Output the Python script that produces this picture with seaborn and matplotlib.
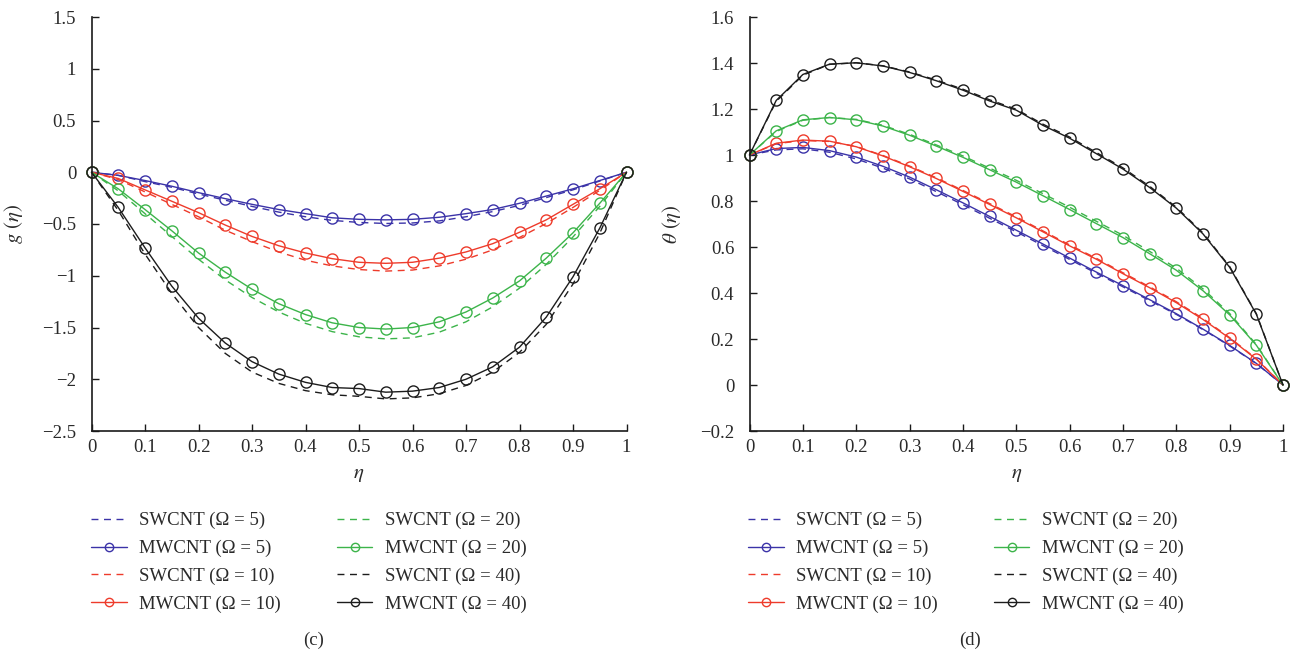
import numpy as np
import pandas as pd
import matplotlib
matplotlib.use("Agg")
import matplotlib.pyplot as plt
import seaborn as sns
from matplotlib.ticker import FuncFormatter, FixedLocator

eta = [0.0, 0.05, 0.1, 0.15, 0.2, 0.25, 0.3, 0.35, 0.4, 0.45, 0.5,
       0.55, 0.6, 0.65, 0.7, 0.75, 0.8, 0.85, 0.9, 0.95, 1.0]

# ---- panel (c): g(eta) ----
g_sw5 = [0, -0.03, -0.09, -0.145, -0.21, -0.27, -0.33, -0.385, -0.43, -0.465, -0.485,
         -0.495, -0.49, -0.47, -0.43, -0.38, -0.32, -0.245, -0.17, -0.085, 0]
g_mw5 = [0, -0.03, -0.08, -0.135, -0.197, -0.255, -0.31, -0.36, -0.40, -0.44, -0.455,
         -0.46, -0.455, -0.435, -0.40, -0.36, -0.30, -0.23, -0.16, -0.08, 0]
g_sw10 = [0, -0.07, -0.19, -0.31, -0.43, -0.56, -0.67, -0.77, -0.85, -0.905, -0.94,
          -0.955, -0.945, -0.905, -0.84, -0.75, -0.63, -0.495, -0.34, -0.175, 0]
g_mw10 = [0, -0.06, -0.17, -0.28, -0.39, -0.51, -0.62, -0.71, -0.78, -0.835, -0.87,
          -0.88, -0.87, -0.83, -0.77, -0.69, -0.58, -0.46, -0.31, -0.16, 0]
g_sw20 = [0, -0.18, -0.40, -0.62, -0.84, -1.04, -1.21, -1.35, -1.46, -1.54, -1.59,
          -1.61, -1.60, -1.545, -1.445, -1.30, -1.12, -0.89, -0.625, -0.33, 0]
g_mw20 = [0, -0.16, -0.36, -0.565, -0.78, -0.965, -1.13, -1.27, -1.375, -1.455, -1.50,
          -1.515, -1.50, -1.445, -1.35, -1.215, -1.05, -0.83, -0.585, -0.30, 0]
g_sw40 = [0, -0.37, -0.79, -1.17, -1.50, -1.75, -1.93, -2.04, -2.11, -2.15, -2.165,
          -2.19, -2.18, -2.14, -2.06, -1.93, -1.74, -1.47, -1.08, -0.59, 0]
g_mw40 = [0, -0.34, -0.73, -1.10, -1.41, -1.65, -1.83, -1.95, -2.03, -2.08, -2.09,
          -2.125, -2.115, -2.08, -2.00, -1.88, -1.69, -1.40, -1.01, -0.54, 0]

# ---- panel (d): theta(eta) ----
t_sw5 = [1, 1.022, 1.027, 1.012, 0.983, 0.943, 0.896, 0.841, 0.784, 0.725, 0.666,
         0.606, 0.546, 0.486, 0.427, 0.367, 0.307, 0.241, 0.170, 0.093, 0]
t_mw5 = [1, 1.028, 1.033, 1.019, 0.991, 0.951, 0.904, 0.849, 0.792, 0.733, 0.673,
         0.613, 0.552, 0.491, 0.432, 0.371, 0.310, 0.243, 0.172, 0.094, 0]
t_sw10 = [1, 1.049, 1.063, 1.059, 1.037, 0.998, 0.952, 0.901, 0.846, 0.789, 0.731,
          0.670, 0.609, 0.551, 0.488, 0.427, 0.362, 0.289, 0.206, 0.114, 0]
t_mw10 = [1, 1.051, 1.065, 1.060, 1.036, 0.996, 0.949, 0.898, 0.842, 0.785, 0.727,
          0.666, 0.605, 0.547, 0.484, 0.423, 0.358, 0.285, 0.203, 0.112, 0]
t_sw20 = [1, 1.102, 1.151, 1.163, 1.155, 1.129, 1.090, 1.044, 0.996, 0.943, 0.890,
          0.832, 0.773, 0.712, 0.651, 0.581, 0.508, 0.418, 0.311, 0.176, 0]
t_mw20 = [1, 1.105, 1.153, 1.163, 1.153, 1.126, 1.086, 1.039, 0.990, 0.936, 0.882,
          0.823, 0.763, 0.702, 0.641, 0.571, 0.499, 0.410, 0.305, 0.173, 0]
t_sw40 = [1, 1.233, 1.347, 1.394, 1.401, 1.388, 1.361, 1.326, 1.286, 1.240, 1.199,
          1.134, 1.078, 1.011, 0.944, 0.864, 0.773, 0.661, 0.515, 0.310, 0]
t_mw40 = [1, 1.237, 1.350, 1.395, 1.401, 1.387, 1.359, 1.323, 1.282, 1.235, 1.195,
          1.129, 1.073, 1.006, 0.939, 0.859, 0.769, 0.657, 0.512, 0.308, 0]

labels = ["SWCNT (Ω = 5)", "MWCNT (Ω = 5)", "SWCNT (Ω = 10)", "MWCNT (Ω = 10)",
          "SWCNT (Ω = 20)", "MWCNT (Ω = 20)", "SWCNT (Ω = 40)", "MWCNT (Ω = 40)"]
colors = ["#3b33a8", "#3b33a8", "#ee3b2b", "#ee3b2b",
          "#3cb44a", "#3cb44a", "#1c1c1c", "#1c1c1c"]

g_series = [g_sw5, g_mw5, g_sw10, g_mw10, g_sw20, g_mw20, g_sw40, g_mw40]
t_series = [t_sw5, t_mw5, t_sw10, t_mw10, t_sw20, t_mw20, t_sw40, t_mw40]

x_ticks = [0, 0.1, 0.2, 0.3, 0.4, 0.5, 0.6, 0.7, 0.8, 0.9, 1]
g_ticks = [-2.5, -2, -1.5, -1, -0.5, 0, 0.5, 1, 1.5]
t_ticks = [-0.2, 0, 0.2, 0.4, 0.6, 0.8, 1, 1.2, 1.4, 1.6]

sns.set_theme(style="ticks")
plt.rcParams["font.family"] = ["Liberation Serif", "DejaVu Serif"]
plt.rcParams["mathtext.fontset"] = "stix"
plt.rcParams["axes.unicode_minus"] = True

W, H = 1291, 656
fig = plt.figure(figsize=(W / 100, H / 100), dpi=100)
fig.patch.set_facecolor("white")

def fmt(v, pos):
    s = "%g" % v
    return s.replace("-", "\u2212")

def make_panel(rect, series, yticks, ylabel, panel_label, label_x, leg_x, ylabpad):
    ax = fig.add_axes(rect)
    ax.set_facecolor("white")
    handles = []
    for i, (vals, lab, col) in enumerate(zip(series, labels, colors)):
        df = pd.DataFrame({"eta": eta, "val": vals})
        if i % 2 == 0:
            sns.lineplot(data=df, x="eta", y="val", ax=ax, color=col, lw=1.0,
                         linestyle=(0, (5, 4)), legend=False, clip_on=False)
        else:
            sns.lineplot(data=df, x="eta", y="val", ax=ax, color=col, lw=1.0,
                         marker="o", markersize=8, markerfacecolor="none",
                         markeredgecolor=col, markeredgewidth=1.0,
                         legend=False, clip_on=False)
        ln = ax.get_lines()[-1]
        ln.set_label(lab)
        handles.append(ln)
    ax.set_xlim(0, 1)
    ax.set_ylim(yticks[0], yticks[-1])
    ax.xaxis.set_major_locator(FixedLocator(x_ticks))
    ax.yaxis.set_major_locator(FixedLocator(yticks))
    ax.xaxis.set_major_formatter(FuncFormatter(fmt))
    ax.yaxis.set_major_formatter(FuncFormatter(fmt))
    for s in ["top", "right"]:
        ax.spines[s].set_visible(False)
    for s in ["left", "bottom"]:
        ax.spines[s].set_color("#1a1a1a")
        ax.spines[s].set_linewidth(1.2)
    ax.tick_params(direction="in", length=5, width=1.0, color="#1a1a1a",
                   labelsize=13.5, labelcolor="#2a2a2a")
    ax.tick_params(axis="x", pad=6)
    ax.tick_params(axis="y", pad=11)
    ax.set_xlabel(r"$\eta$", fontsize=15, color="#2a2a2a", labelpad=6)
    ax.set_ylabel(ylabel, fontsize=15, color="#2a2a2a", labelpad=ylabpad)
    leg = fig.legend(handles=handles, ncol=2, loc="upper left",
                     bbox_to_anchor=(leg_x, 1 - 512 / H), frameon=False,
                     fontsize=13.5, handlelength=1.9, handletextpad=0.65,
                     columnspacing=3.0, labelspacing=0.56, borderaxespad=0,
                     borderpad=0, markerscale=0.75)
    for t in leg.get_texts():
        t.set_color("#2a2a2a")
    fig.text(label_x, 1 - 640 / H, panel_label, ha="center", va="center",
             fontsize=13.5, color="#2a2a2a")
    return ax

top = 17
bot = 431
make_panel([91.5 / W, 1 - bot / H, (626.5 - 91.5) / W, (bot - top) / H],
           g_series, g_ticks, r"$g\ (\eta)$", "(c)", 314 / W, 91 / W, 12)
make_panel([749.5 / W, 1 - bot / H, (1283 - 749.5) / W, (bot - top) / H],
           t_series, t_ticks, r"$\theta\ (\eta)$", "(d)", 970 / W, 748 / W, 12)

fig.savefig("out.png", dpi=100, facecolor="white")
